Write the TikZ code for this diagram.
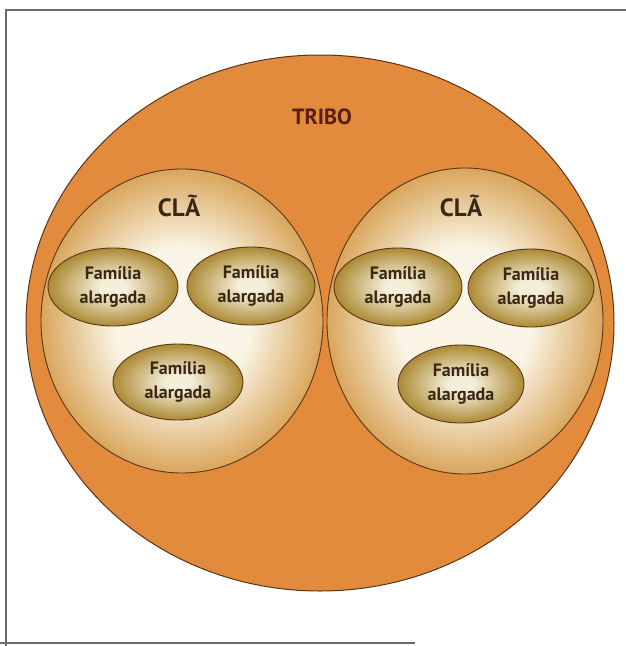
\documentclass[tikz,border=0pt]{standalone}
\usepackage{fontspec}
\setmainfont{PT Sans}
\usetikzlibrary{shapes.geometric}
\definecolor{tribecol}{HTML}{E28B3D}
\definecolor{linecol}{HTML}{5A3418}
\definecolor{clanC}{HTML}{FAF5E6}
\definecolor{clanE}{HTML}{D9A65C}
\definecolor{famC}{HTML}{F5EFDA}
\definecolor{famE}{HTML}{AC8A34}
\definecolor{txtcol}{HTML}{3A2816}
\definecolor{tribtxt}{HTML}{5B1C12}
\definecolor{framecol}{HTML}{6A6A6A}
\pgfdeclareradialshading{clanshade}{\pgfpoint{0bp}{0bp}}{color(0bp)=(clanC); color(12bp)=(clanC); color(25bp)=(clanE); color(50bp)=(clanE)}
\pgfdeclareradialshading{famshade}{\pgfpoint{0bp}{0bp}}{color(0bp)=(famC); color(5bp)=(famC); color(25bp)=(famE); color(50bp)=(famE)}
\tikzset{
  tribe/.style={ellipse, draw=linecol, line width=1pt, fill=tribecol, inner sep=0pt, minimum width=588pt, minimum height=536pt},
  clan/.style={ellipse, draw=linecol, line width=0.9pt, shade, shading=clanshade, inner sep=0pt},
  fam/.style={ellipse, draw=linecol, line width=0.9pt, shade, shading=famshade, inner sep=0pt, align=center,
    font=\bfseries\fontsize{18}{24}\selectfont, text=txtcol},
  clanlabel/.style={font=\bfseries\fontsize{25}{29}\selectfont, text=txtcol},
  tribelabel/.style={font=\bfseries\fontsize{22}{26}\selectfont, text=tribtxt},
  frameline/.style={draw=framecol, line width=1.5pt}
}
\begin{document}
\begin{tikzpicture}[x=1pt,y=-1pt]
\useasboundingbox (0,0) rectangle (626,646);
\fill[white] (0,0) rectangle (626,646);
\draw[frameline] (6,646) -- (6,10) -- (626,10);
\draw[frameline] (0,643) -- (415,643);
\node[tribe] (tribo) at (320,323) {};
\node[tribelabel] (tribolabel) at (322,117) {TRIBO};
\node[clan, minimum width=282pt, minimum height=304pt] (clanL) at (182,321) {};
\node[clan, minimum width=276pt, minimum height=306pt] (clanR) at (465,321) {};
\node[clanlabel] (clanLlabel) at (179,206) {CLÃ};
\node[clanlabel] (clanRlabel) at (461,206) {CLÃ};
\node[fam, minimum width=130pt, minimum height=78pt] (f1) at (113,287) {Família\\alargada};
\node[fam, minimum width=128pt, minimum height=78pt] (f2) at (251,286) {Família\\alargada};
\node[fam, minimum width=130pt, minimum height=76pt] (f3) at (178,382) {Família\\alargada};
\node[fam, minimum width=128pt, minimum height=78pt] (f4) at (398,287) {Família\\alargada};
\node[fam, minimum width=126pt, minimum height=78pt] (f5) at (531,288) {Família\\alargada};
\node[fam, minimum width=126pt, minimum height=78pt] (f6) at (461,384) {Família\\alargada};
\end{tikzpicture}
\end{document}
